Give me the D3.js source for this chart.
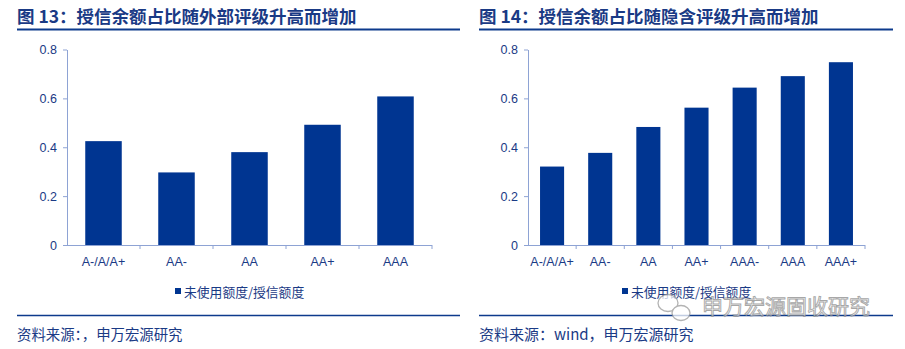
<!DOCTYPE html>
<html>
<head>
<meta charset="utf-8">
<script src="https://cdn.jsdelivr.net/npm/d3@7"></script>
<style>
  html, body { margin: 0; padding: 0; background: #fff; }
  svg { display: block; }
</style>
</head>
<body>
<svg id="chart" width="905" height="349"></svg>
<script>
// Figure 13: by external rating
const extCategories = ["A-/A/A+", "AA-", "AA", "AA+", "AAA"];
const extValues = [0.425, 0.297, 0.38, 0.492, 0.608];

// Figure 14: by implied rating
const impCategories = ["A-/A/A+", "AA-", "AA", "AA+", "AAA-", "AAA", "AAA+"];
const impValues = [0.321, 0.377, 0.483, 0.562, 0.644, 0.691, 0.748];

const yTicks = [0, 0.2, 0.4, 0.6, 0.8];
const legendLabel = "未使用额度/授信额度";
const titles = ["图 13：授信余额占比随外部评级升高而增加", "图 14：授信余额占比随隐含评级升高而增加"];
const sources = ["资料来源：，申万宏源研究", "资料来源：wind，申万宏源研究"];

const BAR = "#003591";
const DARK = "#1a3a85";
const AXIS = "#8ea3d4";
const CJK = "'Noto Sans CJK SC', 'Noto Sans', sans-serif";
const LAT = "'Liberation Sans', Arial, sans-serif";

const svg = d3.select("#chart");

function panel(opts) {
  const { x0, x1, plotL, plotR, cats, vals, title, source, sourceSize, legendX } = opts;
  const g = svg.append("g");

  // title + rule
  g.append("text")
    .attr("x", x0).attr("y", 23)
    .attr("font-family", CJK).attr("font-weight", "bold")
    .attr("font-size", 17.5).attr("fill", DARK)
    .text(title);
  g.append("line")
    .attr("x1", x0).attr("x2", x1).attr("y1", 29.5).attr("y2", 29.5)
    .attr("stroke", "#0d3a8c").attr("stroke-width", 2);

  const y = d3.scaleLinear().domain([0, 0.8]).range([245, 49.5]);
  const x = d3.scaleBand().domain(cats).range([plotL, plotR])
    .paddingInner(0.5).paddingOuter(0.25);

  // bars
  g.selectAll("rect.bar").data(vals).join("rect")
    .attr("class", "bar")
    .attr("x", (d, i) => x(cats[i]))
    .attr("width", x.bandwidth())
    .attr("y", d => y(d))
    .attr("height", d => y(0) - y(d))
    .attr("fill", BAR);

  // y axis
  const ya = g.append("g").attr("transform", `translate(${plotL},0)`)
    .call(d3.axisLeft(y).tickValues(yTicks).tickSize(4).tickSizeOuter(0)
      .tickFormat(d => d === 0 ? "0" : d3.format(".1f")(d)));
  ya.select(".domain").attr("stroke", AXIS);
  ya.selectAll(".tick line").attr("stroke", AXIS);
  ya.selectAll(".tick text").attr("font-family", LAT).attr("font-size", 12.5)
    .attr("fill", DARK).attr("x", -10);

  // x axis: baseline with ticks on category boundaries
  const step = (plotR - plotL) / cats.length;
  g.append("line")
    .attr("x1", plotL).attr("x2", plotR).attr("y1", y(0) + 0.5).attr("y2", y(0) + 0.5)
    .attr("stroke", AXIS).attr("stroke-width", 1.2);
  g.selectAll("line.xt").data(d3.range(1, cats.length + 1)).join("line")
    .attr("class", "xt")
    .attr("x1", i => plotL + i * step).attr("x2", i => plotL + i * step)
    .attr("y1", y(0)).attr("y2", y(0) + 4)
    .attr("stroke", AXIS);
  g.selectAll("text.xl").data(cats).join("text")
    .attr("class", "xl")
    .attr("x", d => x(d) + x.bandwidth() / 2)
    .attr("y", 266)
    .attr("text-anchor", "middle")
    .attr("font-family", LAT).attr("font-size", 12.5).attr("fill", DARK)
    .text(d => d);

  // legend
  g.append("rect").attr("x", legendX).attr("y", 288).attr("width", 6).attr("height", 6)
    .attr("fill", BAR);
  g.append("text").attr("x", legendX + 9).attr("y", 296.5)
    .attr("font-family", CJK).attr("font-size", 12.8).attr("fill", DARK)
    .text(legendLabel);

  // bottom rule + source
  g.append("line")
    .attr("x1", x0).attr("x2", x1).attr("y1", 315.5).attr("y2", 315.5)
    .attr("stroke", "#0d3a8c").attr("stroke-width", 1.5);
  g.append("text").attr("x", x0).attr("y", 339.5)
    .attr("font-family", CJK).attr("font-size", sourceSize).attr("fill", DARK)
    .text(source);
}

panel({ x0: 17, x1: 460, plotL: 67, plotR: 432, cats: extCategories, vals: extValues,
        title: titles[0], source: sources[0], sourceSize: 14.4, legendX: 175 });
panel({ x0: 479, x1: 893, plotL: 528, plotR: 865, cats: impCategories, vals: impValues,
        title: titles[1], source: sources[1], sourceSize: 15, legendX: 622 });

// account watermark
const wm = svg.append("g").attr("opacity", 0.75);
wm.append("ellipse").attr("cx", 668).attr("cy", 303).attr("rx", 10).attr("ry", 8.5)
  .attr("fill", "#fff").attr("stroke", "#9a9a9a").attr("stroke-width", 1.3);
wm.append("ellipse").attr("cx", 681).attr("cy", 313).attr("rx", 9).attr("ry", 7.5)
  .attr("fill", "#fff").attr("stroke", "#9a9a9a").attr("stroke-width", 1.3);
wm.append("text").attr("x", 702).attr("y", 314)
  .attr("font-family", CJK).attr("font-size", 21)
  .attr("fill", "#f4f4f4").attr("stroke", "#8a8a8a").attr("stroke-width", 0.9)
  .text("申万宏源固收研究");
</script>
</body>
</html>
